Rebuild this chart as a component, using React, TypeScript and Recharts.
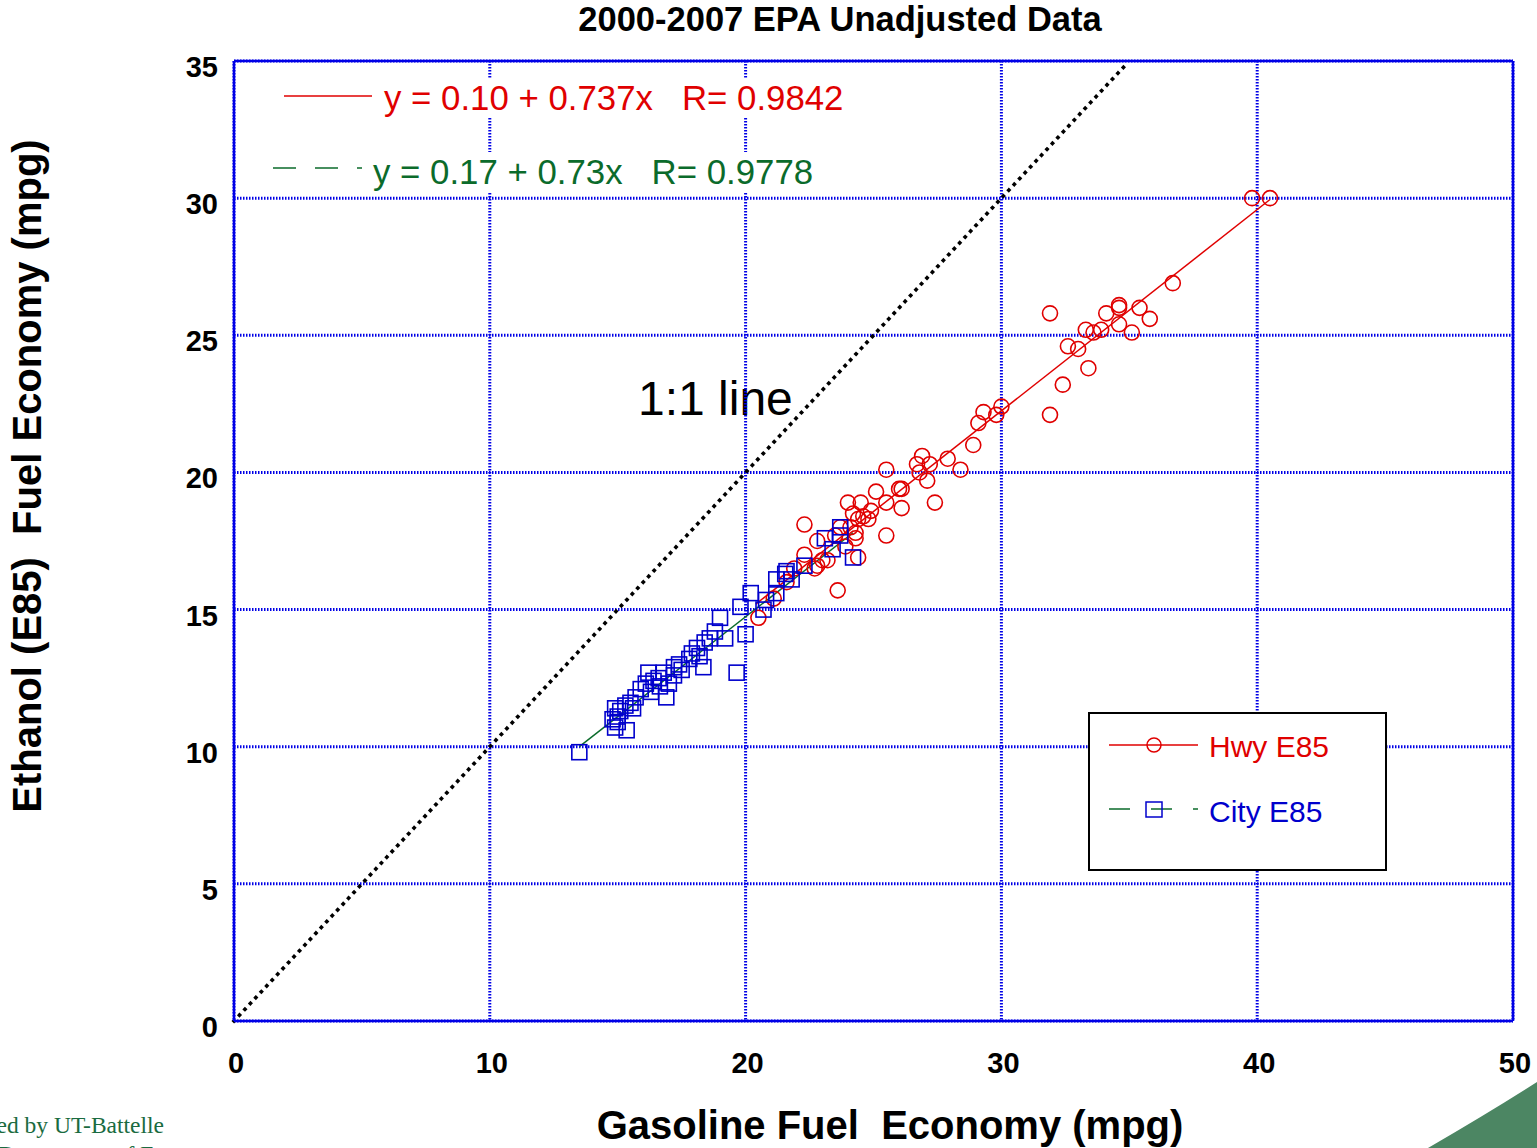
import React from "react";
import {
  ScatterChart,
  Scatter,
  XAxis,
  YAxis,
  CartesianGrid,
  ReferenceLine,
  Legend,
} from "recharts";

// highway: gasoline mpg vs E85 mpg
const hwyGasoline = [
  39.8, 40.5, 36.7, 31.9, 34.6, 34.6, 35.4, 34.1, 35.8, 34.6, 33.3, 33.6, 33.9,
  35.1, 32.6, 33.0, 33.4, 32.4, 31.9, 30.0, 29.8, 29.3, 29.1, 28.9, 27.9, 28.4,
  26.9, 26.7, 27.2, 26.8, 27.1, 25.5, 26.0, 26.1, 25.5, 26.1, 27.4, 25.5, 25.1,
  24.0, 24.5, 24.9, 24.2, 24.6, 24.4, 24.8, 22.3, 24.1, 24.3, 23.7, 23.5, 22.8,
  24.4, 22.3, 23.0, 22.8, 22.7, 23.2, 23.6, 21.9, 21.6, 20.5, 21.1, 24.3, 23.9,
];
const hwyEthanol = [
  30.0, 30.0, 26.9, 25.8, 26.0, 26.1, 26.0, 25.8, 25.6, 25.4, 25.2, 25.1, 25.2,
  25.1, 24.6, 24.5, 23.8, 23.2, 22.1, 22.4, 22.1, 22.2, 21.8, 21.0, 20.5, 20.1,
  20.6, 20.3, 20.3, 20.0, 19.7, 20.1, 19.4, 19.4, 18.9, 18.7, 18.9, 17.7, 19.3,
  18.9, 18.9, 18.6, 18.5, 18.4, 18.3, 18.3, 18.1, 18.0, 17.8, 18.0, 17.7, 17.5,
  16.9, 17.0, 16.8, 16.6, 16.5, 16.8, 15.7, 16.5, 16.0, 14.7, 15.4, 17.6, 17.3,
];

// city: gasoline mpg vs E85 mpg
const cityGasoline = [
  13.5, 15.35, 14.9, 15.0, 15.1, 15.3, 15.5, 15.7, 15.9, 16.1, 16.2, 16.4, 16.9,
  16.65, 17.0, 16.8, 17.2, 17.4, 17.2, 17.8, 17.9, 18.35, 18.1, 18.4, 18.6, 18.8,
  19.2, 19.0, 19.65, 20.0, 19.8, 20.2, 20.7, 21.2, 21.55, 21.2, 21.6, 21.8, 22.3,
  20.8, 23.1, 23.4, 23.7, 23.7, 24.2, 14.8, 15.0, 15.6, 16.3, 16.6, 17.5, 18.2,
  14.9,
];
const cityEthanol = [
  9.8, 10.6, 10.7, 11.1, 11.3, 11.5, 11.6, 11.8, 12.1, 12.3, 12.7, 12.4, 11.8,
  12.2, 12.3, 12.7, 12.9, 13.0, 12.6, 13.2, 13.4, 12.9, 13.6, 13.8, 13.95, 14.2,
  13.95, 14.7, 12.7, 14.1, 15.1, 15.6, 15.0, 16.1, 16.3, 15.6, 16.4, 16.1, 16.6,
  15.35, 17.6, 17.2, 18.0, 17.7, 16.9, 11.0, 10.9, 11.4, 12.0, 12.5, 12.8, 13.3,
  11.4,
];

// fitted lines, end points
const hwyFitX = [20.4, 40.5];
const hwyFitY = [15.2, 29.95];
const cityFitX = [13.5, 24.2];
const cityFitY = [10.0, 17.8];
const oneToOneX = [0, 34.9];
const oneToOneY = [0, 34.9];

const xTicks = [0, 10, 20, 30, 40, 50];
const yTicks = [0, 5, 10, 15, 20, 25, 30, 35];

const RED = "#e00000";
const GREEN = "#0b6b2b";
const BLUE = "#0000cc";
const GRID = "#0000e6";
const FONT = "'Liberation Sans', Arial, Helvetica, sans-serif";
const SERIF = "'Liberation Serif', 'Times New Roman', serif";

const hwyData = hwyGasoline.map((x, i) => ({ x, y: hwyEthanol[i] }));
const cityData = cityGasoline.map((x, i) => ({ x, y: cityEthanol[i] }));

const HwyDot = (p: any) => (
  <circle cx={p.cx} cy={p.cy} r={7.5} fill="none" stroke={RED} strokeWidth={1.6} />
);

const CitySquare = (p: any) => (
  <rect
    x={p.cx - 7.5}
    y={p.cy - 7.5}
    width={15}
    height={15}
    fill="none"
    stroke={BLUE}
    strokeWidth={1.6}
  />
);

const YTick = ({ x, y, payload }: any) => (
  <text x={x} y={y + 16} textAnchor="end" fontSize={29} fontWeight="bold" fontFamily={FONT} fill="#000">
    {payload.value}
  </text>
);

const XTick = ({ x, y, payload }: any) => (
  <text x={x + 2} y={y + 52} textAnchor="middle" fontSize={29} fontWeight="bold" fontFamily={FONT} fill="#000">
    {payload.value}
  </text>
);

const LegendBox = () => (
  <svg width={300} height={160}>
    <rect x={1} y={1} width={297} height={157} fill="#fff" stroke="#000" strokeWidth={2} />
    <line x1={21} y1={33} x2={110} y2={33} stroke={RED} strokeWidth={1.5} />
    <circle cx={66} cy={33} r={7} fill="none" stroke={RED} strokeWidth={1.5} />
    <text x={121} y={45} fontSize={30} fontFamily={FONT} fill={RED}>
      Hwy E85
    </text>
    <line x1={21} y1={97} x2={110} y2={97} stroke={GREEN} strokeWidth={1.5} strokeDasharray="21 21" />
    <rect x={58} y={90} width={16} height={15} fill="none" stroke={BLUE} strokeWidth={1.5} />
    <text x={121} y={110} fontSize={30} fontFamily={FONT} fill={BLUE}>
      City E85
    </text>
  </svg>
);

export default function App() {
  return (
    <div style={{ position: "absolute", left: 0, top: 0, width: 1537, height: 1148, background: "#fff" }}>
      {/* text that sits under the grid */}
      <svg width={1537} height={1148} style={{ position: "absolute", left: 0, top: 0 }}>
        <text x={638} y={415} fontSize={48} fontFamily={FONT} fill="#000">
          1:1 line
        </text>
      </svg>

      <div style={{ position: "absolute", left: 0, top: 0 }}>
        <ScatterChart width={1537} height={1148} margin={{ top: 61, right: 24, bottom: 0, left: 0 }}>
          <CartesianGrid stroke={GRID} strokeWidth={3} strokeDasharray="1.5 1.5" />
          <XAxis
            type="number"
            dataKey="x"
            domain={[0, 50]}
            ticks={xTicks}
            height={127}
            tickSize={0}
            tickMargin={0}
            axisLine={{ stroke: GRID, strokeWidth: 2.5 }}
            tick={<XTick />}
          />
          <YAxis
            type="number"
            dataKey="y"
            domain={[0, 35]}
            ticks={yTicks}
            width={234}
            tickSize={0}
            tickMargin={16}
            axisLine={{ stroke: GRID, strokeWidth: 2.5 }}
            tick={<YTick />}
          />
          <ReferenceLine y={35} stroke={GRID} strokeWidth={2.5} />
          <ReferenceLine x={50} stroke={GRID} strokeWidth={2.5} />
          <ReferenceLine
            segment={[
              { x: oneToOneX[0], y: oneToOneY[0] },
              { x: oneToOneX[1], y: oneToOneY[1] },
            ]}
            stroke="#000"
            strokeWidth={3.6}
            strokeDasharray="0.1 7.9"
            strokeLinecap="square"
          />
          <ReferenceLine
            segment={[
              { x: hwyFitX[0], y: hwyFitY[0] },
              { x: hwyFitX[1], y: hwyFitY[1] },
            ]}
            stroke={RED}
            strokeWidth={1.5}
          />
          <ReferenceLine
            segment={[
              { x: cityFitX[0], y: cityFitY[0] },
              { x: cityFitX[1], y: cityFitY[1] },
            ]}
            stroke={GREEN}
            strokeWidth={1.5}
          />
          <Scatter name="Hwy E85" data={hwyData} shape={<HwyDot />} isAnimationActive={false} />
          <Scatter name="City E85" data={cityData} shape={<CitySquare />} isAnimationActive={false} />
          <Legend
            layout="horizontal"
            verticalAlign="middle"
            align="center"
            content={<LegendBox />}
            wrapperStyle={{ position: "absolute", left: 1088, top: 712, width: 300, height: 160 }}
          />
        </ScatterChart>
      </div>

      <svg
        width={1537}
        height={1148}
        style={{ position: "absolute", left: 0, top: 0, pointerEvents: "none", overflow: "hidden" }}
      >
        <text x={840} y={31} textAnchor="middle" fontSize={34.5} fontWeight="bold" fontFamily={FONT} fill="#000">
          2000-2007 EPA Unadjusted Data
        </text>
        <text
          x={890}
          y={1139}
          textAnchor="middle"
          fontSize={40}
          fontWeight="bold"
          fontFamily={FONT}
          fill="#000"
          style={{ whiteSpace: "pre" }}
        >
          {"Gasoline Fuel  Economy (mpg)"}
        </text>
        <text
          x={41}
          y={476}
          transform="rotate(-90 41 476)"
          textAnchor="middle"
          fontSize={40}
          fontWeight="bold"
          fontFamily={FONT}
          fill="#000"
          style={{ whiteSpace: "pre" }}
        >
          {"Ethanol (E85)  Fuel Economy (mpg)"}
        </text>

        <rect x={280} y={78} width={568} height={40} fill="#fff" />
        <line x1={284} y1={96} x2={372} y2={96} stroke={RED} strokeWidth={1.5} />
        <text x={384} y={110} fontSize={34.8} fontFamily={FONT} fill={RED} style={{ whiteSpace: "pre" }}>
          {"y = 0.10 + 0.737x   R= 0.9842"}
        </text>
        <rect x={268} y={152} width={552} height={40} fill="#fff" />
        <line x1={273} y1={168} x2={362} y2={168} stroke={GREEN} strokeWidth={1.5} strokeDasharray="23 19" />
        <text x={373} y={184} fontSize={34.8} fontFamily={FONT} fill={GREEN} style={{ whiteSpace: "pre" }}>
          {"y = 0.17 + 0.73x   R= 0.9778"}
        </text>

        <text x={164} y={1133} textAnchor="end" fontSize={23.5} fontFamily={SERIF} fill="#1a6b40">
          Managed by UT-Battelle
        </text>
        <text x={-2} y={1162} fontSize={23.5} fontFamily={SERIF} fill="#1a6b40">
          Department of Energy
        </text>
        <path d="M1428 1148 Q1490 1112 1537 1082 L1537 1148 Z" fill="#4c8663" />
      </svg>
    </div>
  );
}
